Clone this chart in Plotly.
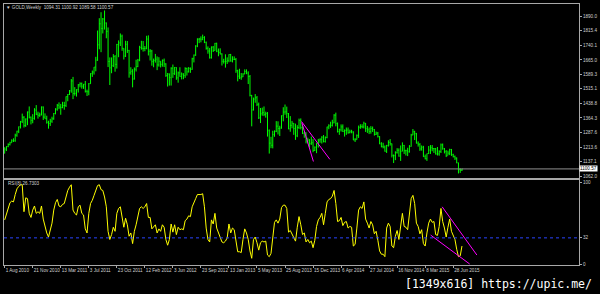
import plotly.graph_objects as go

# ---------------- data ----------------
week_close = [
    1203, 1216, 1227, 1236, 1246, 1246, 1275, 1296, 1319, 1345,
    1368, 1325, 1359, 1395, 1368, 1352, 1362, 1405, 1384, 1378,
    1380, 1421, 1369, 1360, 1342, 1336, 1348, 1360, 1388, 1410,
    1430, 1421, 1418, 1429, 1429, 1475, 1486, 1505, 1556, 1491,
    1492, 1511, 1536, 1542, 1529, 1539, 1502, 1500, 1542, 1594,
    1602, 1628, 1664, 1743, 1852, 1828, 1877, 1856, 1813, 1657,
    1624, 1635, 1682, 1642, 1745, 1753, 1788, 1725, 1685, 1746,
    1713, 1598, 1606, 1566, 1617, 1630, 1664, 1730, 1725, 1724,
    1725, 1773, 1710, 1711, 1656, 1662, 1669, 1639, 1658, 1642,
    1663, 1644, 1584, 1592, 1573, 1622, 1594, 1626, 1572, 1598,
    1579, 1592, 1584, 1620, 1603, 1621, 1616, 1671, 1690, 1737,
    1772, 1773, 1772, 1781, 1756, 1725, 1711, 1676, 1731, 1714,
    1751, 1710, 1703, 1696, 1658, 1656, 1657, 1661, 1693, 1659,
    1668, 1667, 1609, 1581, 1572, 1577, 1592, 1605, 1597, 1579,
    1481, 1406, 1462, 1469, 1435, 1365, 1386, 1392, 1383, 1387,
    1298, 1234, 1223, 1278, 1295, 1322, 1310, 1312, 1376, 1395,
    1396, 1387, 1308, 1326, 1337, 1310, 1272, 1315, 1352, 1315,
    1285, 1288, 1244, 1250, 1231, 1236, 1196, 1213, 1234, 1250,
    1254, 1265, 1242, 1263, 1318, 1324, 1326, 1339, 1379, 1335,
    1294, 1303, 1318, 1294, 1300, 1302, 1288, 1293, 1292, 1250,
    1252, 1274, 1316, 1320, 1318, 1337, 1309, 1303, 1294, 1310,
    1305, 1279, 1286, 1268, 1230, 1216, 1214, 1192, 1222, 1238,
    1231, 1171, 1169, 1185, 1197, 1167, 1192, 1222, 1195, 1195,
    1189, 1217, 1276, 1293, 1283, 1234, 1228, 1204, 1213, 1164,
    1153, 1180, 1198, 1210, 1206, 1205, 1178, 1178, 1190, 1225,
    1205, 1190, 1169, 1182, 1201, 1174, 1164, 1157, 1132, 1097,
    1094.31, 1100.57,
]
week_high = [
    1213, 1218, 1233, 1241, 1254, 1259, 1283, 1298, 1320, 1349,
    1387, 1374, 1362, 1398, 1424, 1372, 1384, 1415, 1431, 1397,
    1392, 1424, 1424, 1388, 1376, 1350, 1360, 1371, 1390, 1415,
    1437, 1445, 1437, 1448, 1448, 1476, 1488, 1509, 1566, 1577,
    1524, 1513, 1540, 1549, 1548, 1540, 1556, 1511, 1545, 1596,
    1610, 1628, 1681, 1817, 1881, 1912, 1882, 1921, 1859, 1833,
    1678, 1678, 1695, 1690, 1748, 1766, 1802, 1796, 1725, 1764,
    1763, 1717, 1627, 1617, 1626, 1666, 1670, 1738, 1764, 1763,
    1737, 1790, 1792, 1721, 1717, 1672, 1696, 1683, 1679, 1658,
    1667, 1672, 1648, 1597, 1595, 1627, 1641, 1628, 1627, 1605,
    1627, 1600, 1596, 1627, 1625, 1628, 1626, 1676, 1693, 1741,
    1777, 1779, 1787, 1796, 1788, 1760, 1735, 1727, 1735, 1737,
    1753, 1754, 1724, 1725, 1699, 1671, 1694, 1678, 1694, 1696,
    1684, 1683, 1675, 1614, 1619, 1597, 1596, 1616, 1616, 1606,
    1587, 1484, 1470, 1488, 1478, 1444, 1416, 1418, 1424, 1397,
    1395, 1305, 1267, 1298, 1300, 1348, 1347, 1324, 1378, 1420,
    1434, 1423, 1390, 1374, 1349, 1338, 1335, 1327, 1361, 1362,
    1329, 1293, 1290, 1262, 1255, 1268, 1255, 1217, 1234, 1256,
    1259, 1270, 1276, 1269, 1319, 1332, 1345, 1355, 1384, 1392,
    1341, 1309, 1331, 1331, 1305, 1315, 1315, 1304, 1303, 1295,
    1260, 1279, 1325, 1332, 1332, 1345, 1338, 1323, 1315, 1322,
    1320, 1307, 1294, 1292, 1270, 1239, 1236, 1222, 1225, 1249,
    1255, 1232, 1175, 1192, 1208, 1207, 1222, 1238, 1225, 1200,
    1210, 1224, 1282, 1307, 1298, 1287, 1243, 1234, 1222, 1220,
    1175, 1180, 1219, 1224, 1224, 1209, 1209, 1214, 1197, 1232,
    1232, 1209, 1198, 1195, 1205, 1204, 1179, 1170, 1160, 1133,
    1104, 1100.92,
]
week_low = [
    1181, 1193, 1213, 1222, 1236, 1240, 1241, 1267, 1286, 1310,
    1338, 1315, 1318, 1327, 1362, 1331, 1337, 1355, 1379, 1361,
    1370, 1378, 1354, 1360, 1335, 1309, 1323, 1339, 1355, 1383,
    1402, 1410, 1381, 1415, 1407, 1421, 1451, 1483, 1495, 1462,
    1480, 1475, 1496, 1523, 1516, 1515, 1496, 1478, 1482, 1541,
    1577, 1589, 1606, 1660, 1720, 1705, 1802, 1822, 1777, 1628,
    1535, 1596, 1628, 1604, 1620, 1679, 1737, 1712, 1667, 1680,
    1701, 1573, 1588, 1523, 1563, 1605, 1628, 1658, 1718, 1708,
    1710, 1720, 1688, 1662, 1635, 1627, 1651, 1612, 1630, 1626,
    1630, 1628, 1577, 1527, 1532, 1532, 1572, 1587, 1562, 1547,
    1578, 1564, 1565, 1572, 1584, 1600, 1598, 1614, 1652, 1686,
    1731, 1752, 1756, 1767, 1752, 1718, 1697, 1672, 1672, 1706,
    1713, 1705, 1684, 1693, 1636, 1646, 1625, 1644, 1653, 1656,
    1652, 1664, 1598, 1554, 1566, 1562, 1576, 1591, 1591, 1540,
    1476, 1321, 1403, 1443, 1426, 1359, 1338, 1376, 1374, 1366,
    1268, 1180, 1208, 1207, 1267, 1291, 1279, 1271, 1309, 1347,
    1381, 1364, 1306, 1293, 1311, 1277, 1251, 1265, 1307, 1305,
    1281, 1262, 1233, 1232, 1211, 1225, 1187, 1193, 1182, 1211,
    1236, 1232, 1238, 1237, 1259, 1306, 1313, 1320, 1337, 1321,
    1289, 1277, 1294, 1292, 1268, 1277, 1283, 1285, 1285, 1250,
    1240, 1252, 1261, 1308, 1311, 1310, 1292, 1287, 1281, 1283,
    1292, 1273, 1276, 1263, 1229, 1212, 1207, 1190, 1183, 1216,
    1221, 1160, 1131, 1146, 1180, 1164, 1142, 1192, 1178, 1170,
    1167, 1185, 1216, 1275, 1250, 1232, 1216, 1194, 1195, 1163,
    1150, 1142, 1178, 1178, 1192, 1183, 1175, 1170, 1169, 1183,
    1200, 1181, 1162, 1171, 1172, 1168, 1160, 1147, 1130, 1077,
    1080, 1089.58,
]
first_open = 1182

rsi_values = [
    54, 62, 70, 75, 77, 76, 85, 92, 95, 97,
    97, 64, 81, 80, 62, 57, 66, 71, 62, 64,
    62, 71, 55, 45, 38, 33, 40, 50, 66, 75,
    79, 71, 70, 73, 74, 84, 90, 94, 97, 66,
    62, 60, 70, 72, 62, 60, 43, 38, 62, 74,
    78, 84, 90, 96, 97, 91, 90, 82, 70, 40,
    30, 36, 45, 40, 62, 68, 70, 55, 45, 56,
    48, 34, 38, 25, 40, 48, 58, 68, 70, 68,
    70, 74, 57, 57, 43, 45, 48, 38, 43, 40,
    48, 45, 30, 23, 30, 49, 39, 48, 36, 45,
    42, 43, 42, 53, 55, 59, 58, 70, 76, 80,
    85, 85, 85, 86, 70, 44, 30, 27, 54, 49,
    62, 44, 38, 34, 27, 26, 28, 32, 49, 38,
    44, 42, 30, 15, 15, 14, 30, 43, 38, 30,
    16, 7, 30, 33, 26, 17, 26, 28, 27, 28,
    11, 9, 13, 36, 51, 54, 50, 55, 69, 72,
    72, 68, 39, 41, 37, 32, 28, 45, 58, 48,
    36, 38, 27, 30, 26, 28, 20, 29, 46, 54,
    57, 62, 48, 62, 76, 79, 80, 83, 90, 74,
    52, 53, 57, 47, 51, 52, 44, 46, 45, 22,
    24, 44, 66, 70, 68, 76, 55, 50, 44, 52,
    48, 37, 40, 29, 16, 12, 12, 9, 44, 50,
    46, 22, 20, 34, 41, 30, 50, 62, 46, 45,
    42, 58, 80, 84, 74, 50, 46, 37, 42, 25,
    22, 38, 50, 55, 51, 52, 36, 35, 46, 68,
    52, 44, 33, 45, 55, 40, 34, 30, 18, 9,
    10, 22,
]

date_labels = ["1 Aug 2010", "21 Nov 2010", "13 Mar 2011", "3 Jul 2011", "23 Oct 2011",
               "12 Feb 2012", "3 Jun 2012", "23 Sep 2012", "13 Jan 2013", "5 May 2013",
               "25 Aug 2013", "15 Dec 2013", "6 Apr 2014", "27 Jul 2014", "16 Nov 2014",
               "8 Mar 2015", "28 Jun 2015"]
weeks_per_label = 16
price_ticks = [1890.0, 1815.4, 1740.1, 1665.0, 1589.3, 1515.1, 1438.8,
               1364.3, 1287.6, 1213.6, 1137.1, 1062.0]
rsi_ticks = [0, 32, 100]
rsi_level = 32

# hand-drawn trend lines (week index, value)
price_trend_a = ([169.4, 185.6], [1346, 1150])
price_trend_b = ([169.6, 176.2], [1340, 1139])
rsi_trend_a = ([249.7, 269.5], [70, 11])
rsi_trend_b = ([243.1, 265.4], [35.4, 0])

header_text = "▼ GOLD,Weekly  1094.31 1100.92 1089.58 1100.57"
rsi_text = "RSI(8) 26.7303"
watermark = "[1349x616] https://upic.me/"

# ---------------- figure ----------------
n = len(week_close)
idx = list(range(n))
opens = [first_open] + week_close[:-1]
opens[-1] = 1094.31

GREEN = "#00ff00"
AX = "#a8a8a8"
TXT = "#d0d0d0"

fig = go.Figure()
fig.add_trace(go.Ohlc(
    x=idx, open=opens, high=week_high, low=week_low, close=week_close,
    increasing=dict(line=dict(color=GREEN, width=1)),
    decreasing=dict(line=dict(color=GREEN, width=1)),
    tickwidth=0.35, xaxis="x", yaxis="y", hoverinfo="skip"))
for tx, ty in (price_trend_a, price_trend_b):
    fig.add_trace(go.Scatter(x=tx, y=ty, mode="lines", xaxis="x", yaxis="y",
                             line=dict(color="#ff00ff", width=1), hoverinfo="skip"))
fig.add_trace(go.Scatter(x=idx, y=rsi_values, mode="lines", xaxis="x2", yaxis="y2",
                         line=dict(color="#ffff00", width=1), hoverinfo="skip"))
for tx, ty in (rsi_trend_a, rsi_trend_b):
    fig.add_trace(go.Scatter(x=tx, y=ty, mode="lines", xaxis="x2", yaxis="y2",
                             line=dict(color="#ff00ff", width=1), hoverinfo="skip",
                             cliponaxis=True))

xr = [-0.4, 327.8]
tick_idx = [i * weeks_per_label for i in range(len(date_labels))]

fig.update_layout(
    width=600, height=294,
    margin=dict(l=3, r=17, t=3, b=29),
    paper_bgcolor="black", plot_bgcolor="black",
    showlegend=False,
    font=dict(family="Liberation Sans", size=4.6, color=TXT),
    xaxis=dict(domain=[0, 1], anchor="y", range=xr, showgrid=False, zeroline=False,
               showticklabels=False, ticks="", showline=True, linecolor=AX,
               linewidth=1, mirror=True, rangeslider=dict(visible=False)),
    yaxis=dict(domain=[0.332, 1], anchor="x", range=[1051.7, 1954.5], side="right",
               showgrid=False, zeroline=False, tickvals=price_ticks,
               ticktext=[f"{v:.1f}" for v in price_ticks], ticks="outside",
               ticklen=2, tickcolor=AX, showline=True, linecolor=AX, linewidth=1,
               mirror=True),
    xaxis2=dict(domain=[0, 1], anchor="y2", range=xr, showgrid=False, zeroline=False,
                tickvals=tick_idx, ticktext=date_labels, ticks="outside", ticklen=2,
                tickangle=0, tickcolor=AX, ticklabelposition="outside right",
                showline=True, linecolor=AX, linewidth=1, mirror=True),
    yaxis2=dict(domain=[0, 0.3263], anchor="x2", range=[-1.2, 103.0], side="right",
                showgrid=False, zeroline=False, tickvals=rsi_ticks,
                ticktext=[str(v) for v in rsi_ticks], ticks="outside", ticklen=2,
                tickcolor=AX, showline=True, linecolor=AX, linewidth=1, mirror=True),
    shapes=[
        dict(type="line", xref="x", yref="y", x0=xr[0], x1=xr[1],
             y0=week_close[-1], y1=week_close[-1], line=dict(color="#909090", width=1)),
        dict(type="line", xref="x2", yref="y2", x0=xr[0], x1=xr[1],
             y0=rsi_level, y1=rsi_level, line=dict(color="#2a44ff", width=1, dash="dot")),
    ],
    annotations=[
        dict(text=header_text, xref="paper", yref="paper", x=0.0, y=0.9885,
             xanchor="left", yanchor="middle", showarrow=False,
             font=dict(size=4.6, color=TXT)),
        dict(text=rsi_text, xref="paper", yref="paper", x=0.004, y=0.313,
             xanchor="left", yanchor="middle", showarrow=False,
             font=dict(size=4.6, color=TXT)),
        dict(text=f"{week_close[-1]:.2f}", xref="paper", yref="y", x=1.0,
             y=week_close[-1], xanchor="left", yanchor="middle", showarrow=False,
             bgcolor="#ffffff", borderpad=0, font=dict(size=4.6, color="#000000")),
        dict(text=watermark, xref="paper", yref="paper", x=1.0259, y=-0.0725,
             xanchor="right", yanchor="middle", showarrow=False,
             font=dict(family="DejaVu Sans Mono", size=11.5, color="#ffffff")),
    ],
)

fig.write_html("out.html")
